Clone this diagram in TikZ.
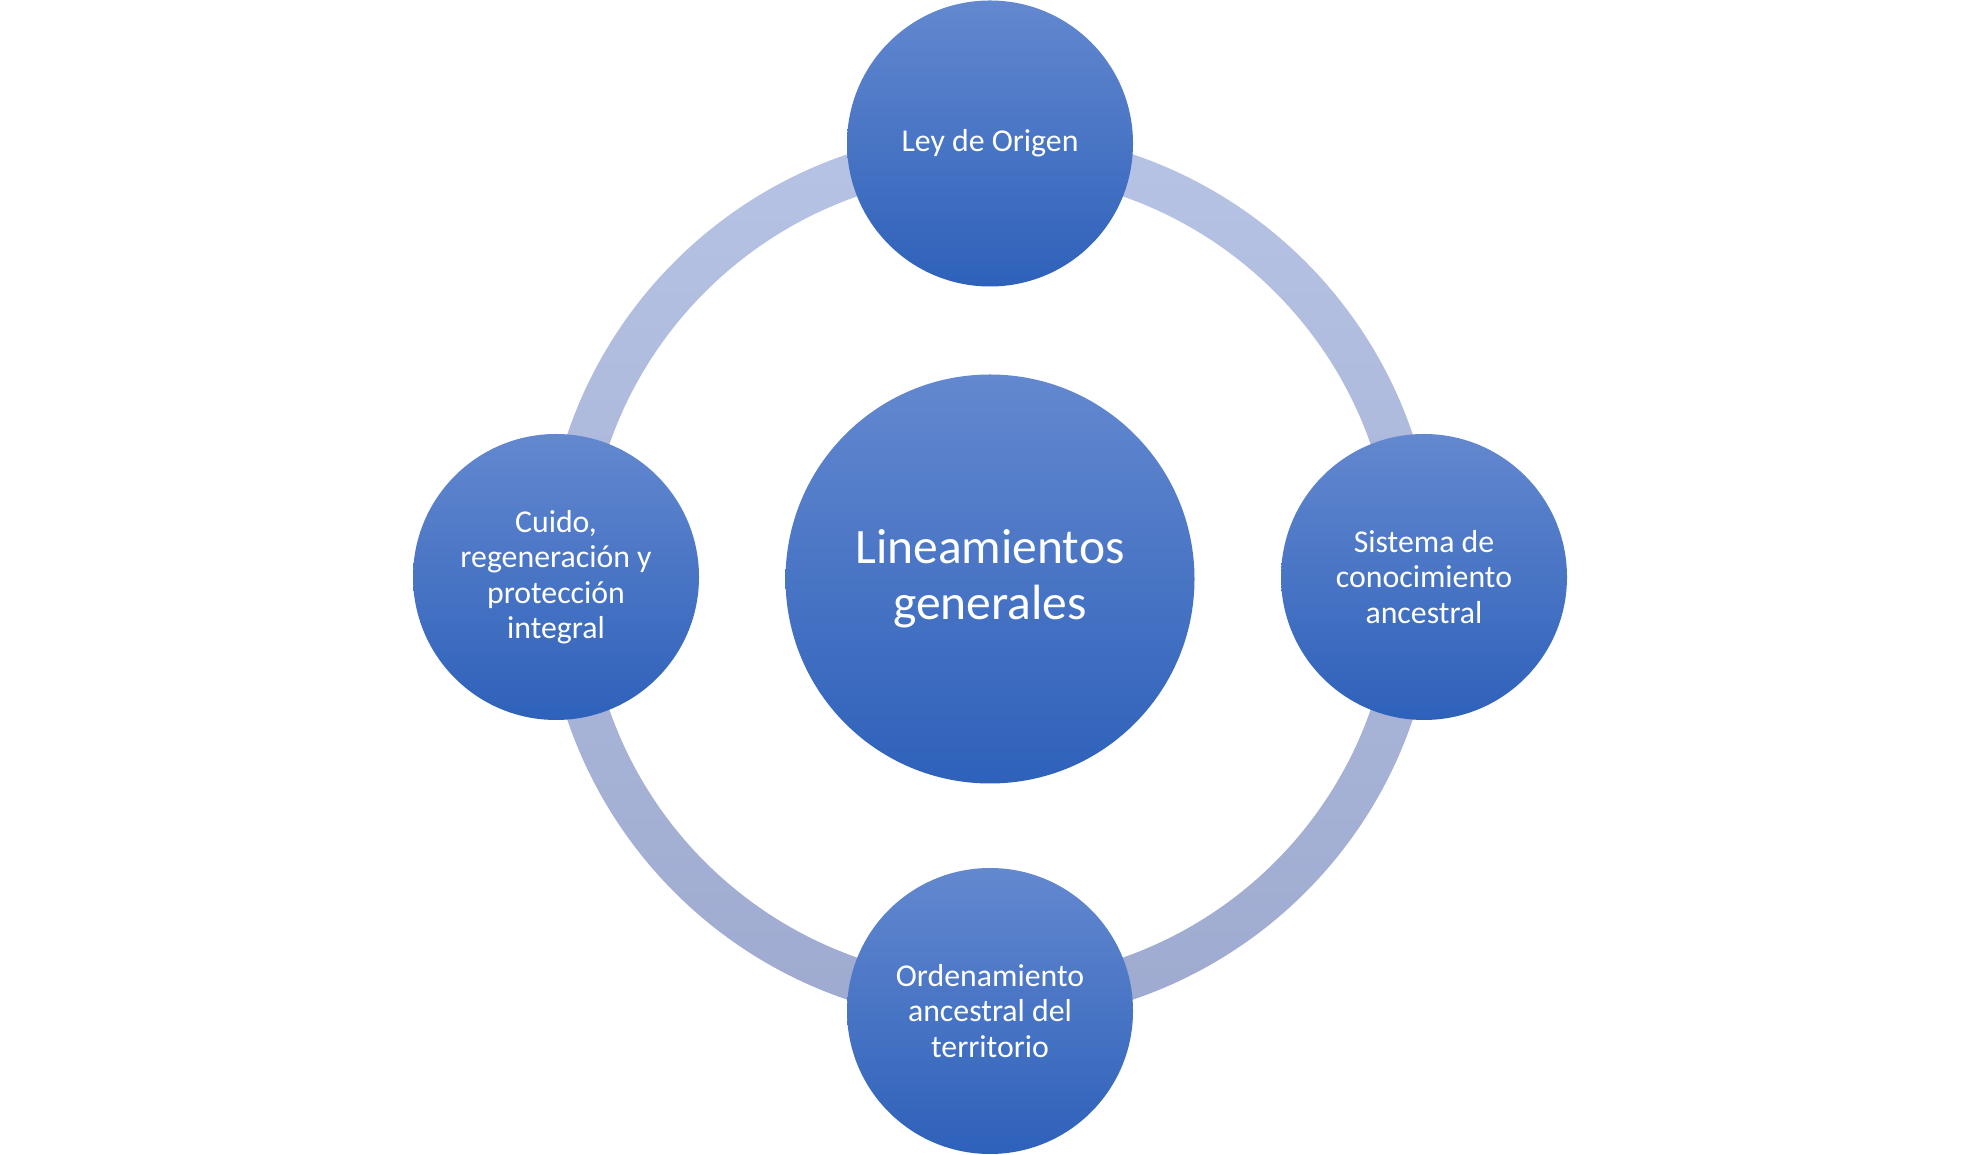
\documentclass[tikz,border=0pt]{standalone}
\usepackage{fontspec}
\setmainfont{Carlito}
\definecolor{ctop}{HTML}{6388CF}
\definecolor{cmid}{HTML}{4674CA}
\definecolor{cbot}{HTML}{2E61BA}
\definecolor{rtop}{HTML}{B6C3E4}
\definecolor{rmid}{HTML}{ABB7DC}
\definecolor{rbot}{HTML}{9EAACF}
\tikzset{
  bubble/.style={circle, inner sep=0pt, minimum size=286pt, text=white,
    top color=ctop, middle color=cmid, bottom color=cbot, draw=none,
    align=center, font=\fontsize{31.8}{35.5}\selectfont},
  bigbubble/.style={bubble, minimum size=409pt, font=\fontsize{49.5}{56}\selectfont}
}
\begin{document}
\begin{tikzpicture}
\useasboundingbox (0pt,0pt) rectangle (1980pt,1155pt);
\coordinate (c) at (990pt,578pt);
\path[top color=rtop, middle color=rmid, bottom color=rbot, even odd rule]
  (c) circle (446pt) (c) circle (403pt);
\node[bigbubble] (center) at (990pt,576pt) {Lineamientos\\generales};
\node[bubble] (top) at (990pt,1011.5pt) {Ley de Origen};
\node[bubble] (left) at (556pt,578pt) {Cuido,\\regeneración y\\protección\\integral};
\node[bubble] (right) at (1424pt,578pt) {Sistema de\\conocimiento\\ancestral};
\node[bubble] (bottom) at (990pt,144pt) {Ordenamiento\\ancestral del\\territorio};
\end{tikzpicture}
\end{document}
